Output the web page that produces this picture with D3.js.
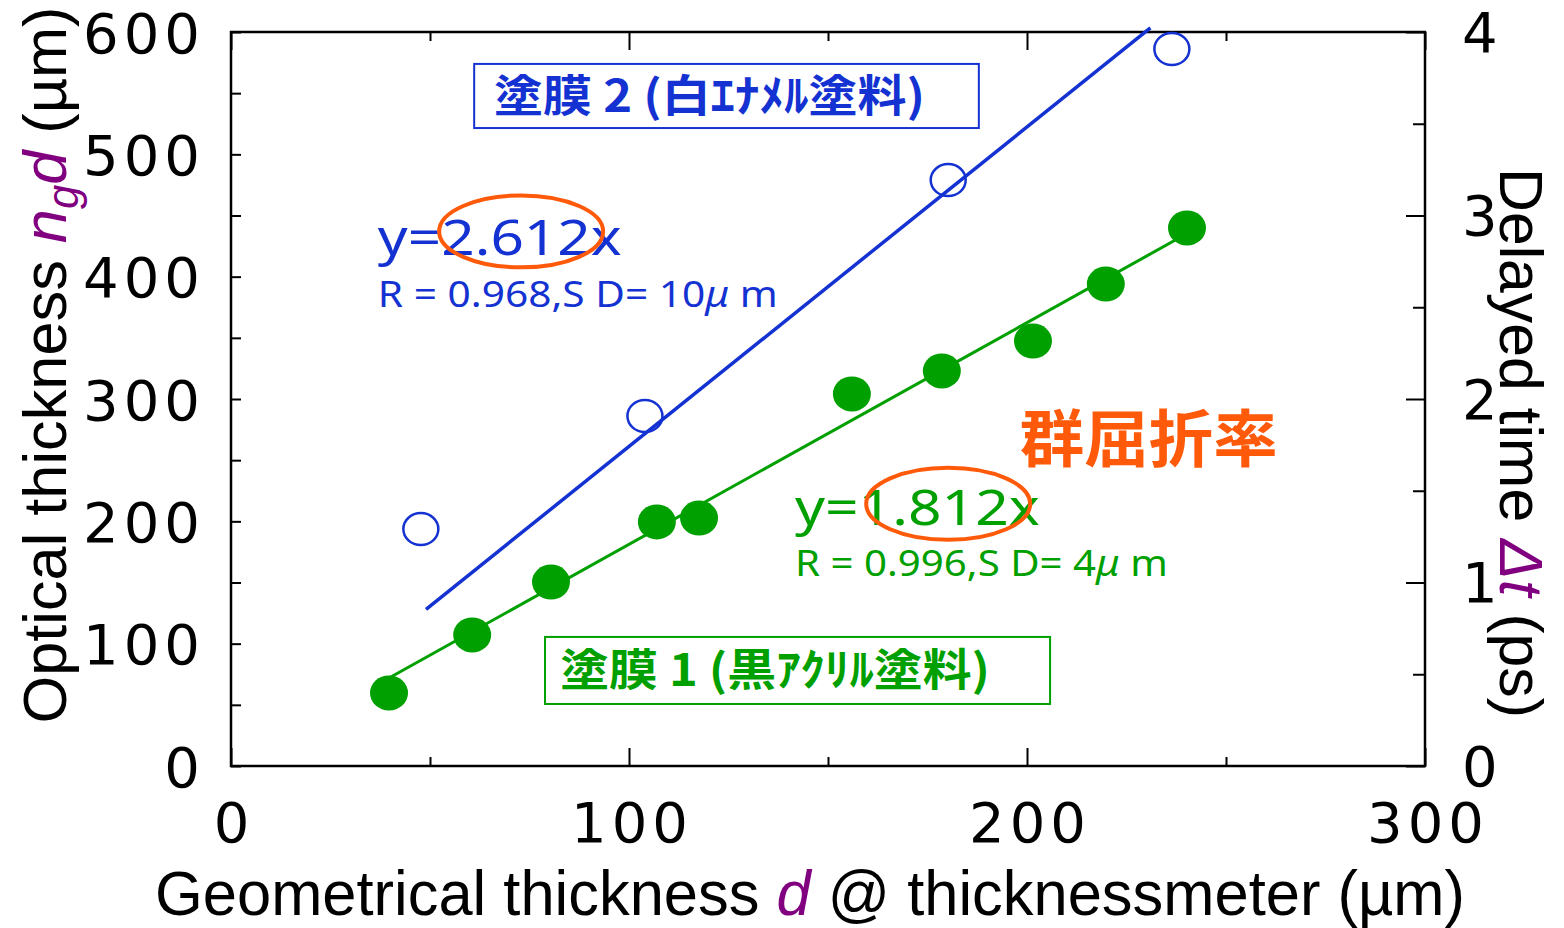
<!DOCTYPE html>
<html>
<head>
<meta charset="utf-8">
<script src="https://cdn.jsdelivr.net/npm/d3@7"></script>
<style>
  body { margin: 0; background: #fff; }
</style>
</head>
<body>
<svg id="chart" width="1564" height="928"></svg>
<script>
// Coating 1: black acrylic paint (filled markers)
const coat1Thickness = [39.7, 60.6, 80.4, 107.0, 117.6, 156.0, 178.6, 201.5, 219.8, 240.2];
const coat1Optical   = [59.7, 107.1, 150.4, 199.5, 202.7, 304.1, 322.9, 347.4, 394.0, 439.8];
// Coating 2: white enamel paint (open markers)
const coat2Thickness = [47.7, 104.0, 180.2, 236.4];
const coat2Optical   = [193.7, 286.1, 479.0, 586.1];

// Linear fits through the origin and the span each fit line is drawn over
const coat1Slope = 1.812;
const coat2Slope = 2.612;
const coat1FitRange = [39.7, 240.2];
const coat2FitRange = [49, 231];

// Axis ticks and labels
const xTicks = [0, 50, 100, 150, 200, 250, 300];
const xTickLabels = ["0", "100", "200", "300"];
const yTicks = [0, 50, 100, 150, 200, 250, 300, 350, 400, 450, 500, 550, 600];
const yTickLabels = ["0", "100", "200", "300", "400", "500", "600"];
const timeTicks = [0, 0.5, 1, 1.5, 2, 2.5, 3, 3.5, 4];
const timeTickLabels = ["0", "1", "2", "3", "4"];

const C_BLUE = "#1432d2", C_GREEN = "#00a000", C_ORANGE = "#ff5a0a", C_PURPLE = "#800080";
const TITLE_FONT = "'Liberation Sans Narrow','Liberation Sans',Arial,sans-serif";
const TICK_FONT = "'DejaVu Sans',Verdana,sans-serif";
const LABEL_FONT = "'Noto Sans','DejaVu Sans',sans-serif";
const CJK_FONT = "'Noto Sans CJK JP','Noto Sans CJK SC',sans-serif";

const svg = d3.select("#chart");
const x = d3.scaleLinear().domain([0, 300]).range([231, 1425]);
const y = d3.scaleLinear().domain([0, 600]).range([766, 32]);
const yTime = d3.scaleLinear().domain([0, 4]).range([766, 32]);

function labelFor(labels, major) {
  return d => { const i = major.indexOf(d); return i >= 0 ? labels[i] : ""; };
}
function styleTicks(g, isMajor, majorLen, minorLen, attr) {
  g.select(".domain").remove();
  g.selectAll(".tick line").attr("stroke", "#000").attr("stroke-width", 2)
    .attr(attr, d => isMajor(d) ? majorLen : minorLen);
  g.selectAll(".tick text").attr("font-family", TICK_FONT).attr("font-size", 56)
    .attr("fill", "#000").attr("letter-spacing", 5);
}

// Left axis (optical thickness)
const yMajor = yTicks.filter(d => d % 100 === 0);
const gLeft = svg.append("g").attr("transform", `translate(${x(0)},0)`)
  .call(d3.axisLeft(y).tickValues(yTicks).tickSize(-10).tickPadding(26)
    .tickFormat(labelFor(yTickLabels, yMajor)));
styleTicks(gLeft, d => true, 10, 10, "x2");
gLeft.selectAll(".tick text").attr("dy", "0.36em");

// Right axis (delayed time)
const tMajor = timeTicks.filter(d => Number.isInteger(d));
const gRight = svg.append("g").attr("transform", `translate(${x(300)},0)`)
  .call(d3.axisRight(yTime).tickValues(timeTicks).tickSize(-12).tickPadding(37)
    .tickFormat(labelFor(timeTickLabels, tMajor)));
styleTicks(gRight, d => Number.isInteger(d), -19, -12, "x2");
gRight.selectAll(".tick text").attr("dy", "0.34em");

// Bottom axis (geometrical thickness)
const xMajor = xTicks.filter(d => d % 100 === 0);
const gBottom = svg.append("g").attr("transform", `translate(0,${y(0)})`)
  .call(d3.axisBottom(x).tickValues(xTicks).tickSize(-9).tickPadding(36)
    .tickFormat(labelFor(xTickLabels, xMajor)));
styleTicks(gBottom, d => d % 100 === 0, -18, -9, "y2");
gBottom.selectAll(".tick text").attr("dx", 2.5);

// Top axis, ticks only
const gTop = svg.append("g").attr("transform", `translate(0,${y(600)})`)
  .call(d3.axisTop(x).tickValues(xTicks).tickSize(-9).tickFormat(""));
styleTicks(gTop, d => d % 100 === 0, 18, 9, "y2");

// Plot frame
svg.append("rect")
  .attr("x", x(0)).attr("y", y(600))
  .attr("width", x(300) - x(0)).attr("height", y(0) - y(600))
  .attr("fill", "none").attr("stroke", "#000").attr("stroke-width", 2.5);

// Fit lines
const line = d3.line().x(d => x(d[0])).y(d => y(d[1]));
svg.append("path")
  .datum(coat2FitRange.map(t => [t, coat2Slope * t]))
  .attr("d", line).attr("stroke", C_BLUE).attr("stroke-width", 3.5).attr("fill", "none");
svg.append("path")
  .datum(coat1FitRange.map(t => [t, coat1Slope * t]))
  .attr("d", line).attr("stroke", C_GREEN).attr("stroke-width", 3).attr("fill", "none");

// Markers
const coat1 = coat1Thickness.map((t, i) => ({ t, v: coat1Optical[i] }));
const coat2 = coat2Thickness.map((t, i) => ({ t, v: coat2Optical[i] }));
svg.append("g").selectAll("ellipse").data(coat2).join("ellipse")
  .attr("cx", d => x(d.t)).attr("cy", d => y(d.v))
  .attr("rx", 17.5).attr("ry", 16)
  .attr("fill", "none").attr("stroke", C_BLUE).attr("stroke-width", 2.5);
svg.append("g").selectAll("ellipse").data(coat1).join("ellipse")
  .attr("cx", d => x(d.t)).attr("cy", d => y(d.v))
  .attr("rx", 19).attr("ry", 17.5)
  .attr("fill", C_GREEN);

// Text helper: draws text at (px,py) and squeezes/stretches it to a given width
function fitText(parent, px, py, width, opts, build) {
  const t = parent.append("text")
    .attr("font-family", opts.font).attr("font-size", opts.size)
    .attr("font-weight", opts.weight || "normal")
    .attr("fill", opts.fill || "#000")
    .attr("text-anchor", opts.anchor || "start");
  build(t);
  const w = t.node().getComputedTextLength();
  const s = width / w;
  t.attr("transform", `translate(${px},${py}) rotate(${opts.rotate || 0}) scale(${s},1)`);
  return t;
}

// Axis titles
fitText(svg, 810, 915, 1310, { font: TITLE_FONT, size: 62, anchor: "middle" }, t => {
  t.append("tspan").text("Geometrical thickness ");
  t.append("tspan").attr("font-style", "italic").attr("fill", C_PURPLE).text("d");
  t.append("tspan").text(" @ thicknessmeter (µm)");
});
fitText(svg, 66, 365, 717, { font: TITLE_FONT, size: 62, anchor: "middle", rotate: -90 }, t => {
  t.append("tspan").text("Optical thickness ");
  t.append("tspan").attr("font-style", "italic").attr("fill", C_PURPLE).text("n");
  t.append("tspan").attr("font-style", "italic").attr("fill", C_PURPLE)
    .attr("font-size", 44).attr("dy", 12).text("g");
  t.append("tspan").attr("font-style", "italic").attr("fill", C_PURPLE).attr("dy", -12).text("d");
  t.append("tspan").text(" (µm)");
});
fitText(svg, 1500, 443, 550, { font: TITLE_FONT, size: 62, anchor: "middle", rotate: 90 }, t => {
  t.append("tspan").text("Delayed time ");
  t.append("tspan").attr("font-style", "italic").attr("fill", C_PURPLE).text("Δt");
  t.append("tspan").text(" (ps)");
});

// Annotations, anchored in data units
const ann = svg.append("g");
// Coating 2 legend box
ann.append("rect")
  .attr("x", x(61.1)).attr("y", y(573.9))
  .attr("width", x(187.9) - x(61.1)).attr("height", y(521.5) - y(573.9))
  .attr("fill", "none").attr("stroke", C_BLUE).attr("stroke-width", 2);
fitText(ann, x(66.1), y(534.6), 431, { font: CJK_FONT, size: 44, weight: "bold", fill: C_BLUE },
  t => t.text("塗膜 2 (白ｴﾅﾒﾙ塗料)"));

// Coating 1 legend box
ann.append("rect")
  .attr("x", x(78.9)).attr("y", y(105.5))
  .attr("width", x(205.8) - x(78.9)).attr("height", y(50.7) - y(105.5))
  .attr("fill", "none").attr("stroke", C_GREEN).attr("stroke-width", 2);
fitText(ann, x(82.7), y(65.4), 430, { font: CJK_FONT, size: 44, weight: "bold", fill: C_GREEN },
  t => t.text("塗膜 1 (黒ｱｸﾘﾙ塗料)"));

// Fit equations
fitText(ann, x(36.9), y(417.7), 244, { font: LABEL_FONT, size: 50, fill: C_BLUE },
  t => t.text(`y=${coat2Slope.toFixed(3)}x`));
fitText(ann, x(36.9), y(375.2), 400, { font: LABEL_FONT, size: 37, fill: C_BLUE }, t => {
  t.append("tspan").text("R = 0.968,S D= 10");
  t.append("tspan").attr("font-style", "italic").text("μ");
  t.append("tspan").text(" m");
});
fitText(ann, x(141.7), y(197.0), 245, { font: LABEL_FONT, size: 50, fill: C_GREEN },
  t => t.text(`y=${coat1Slope.toFixed(3)}x`));
fitText(ann, x(141.7), y(155.3), 373, { font: LABEL_FONT, size: 37, fill: C_GREEN }, t => {
  t.append("tspan").text("R = 0.996,S D= 4");
  t.append("tspan").attr("font-style", "italic").text("μ");
  t.append("tspan").text(" m");
});

// Group refractive index label
fitText(ann, x(198.2), y(248.5), 258, { font: CJK_FONT, size: 62, weight: "bold", fill: C_ORANGE },
  t => t.text("群屈折率"));

// Highlight rings around the slopes
const rings = [[72.9, 437.0], [180.2, 214.3]];
ann.selectAll("ellipse.ring").data(rings).join("ellipse")
  .attr("class", "ring")
  .attr("cx", d => x(d[0])).attr("cy", d => y(d[1]))
  .attr("rx", x(20.6) - x(0)).attr("ry", y(0) - y(29.4))
  .attr("fill", "none").attr("stroke", C_ORANGE).attr("stroke-width", 4);
</script>
</body>
</html>
